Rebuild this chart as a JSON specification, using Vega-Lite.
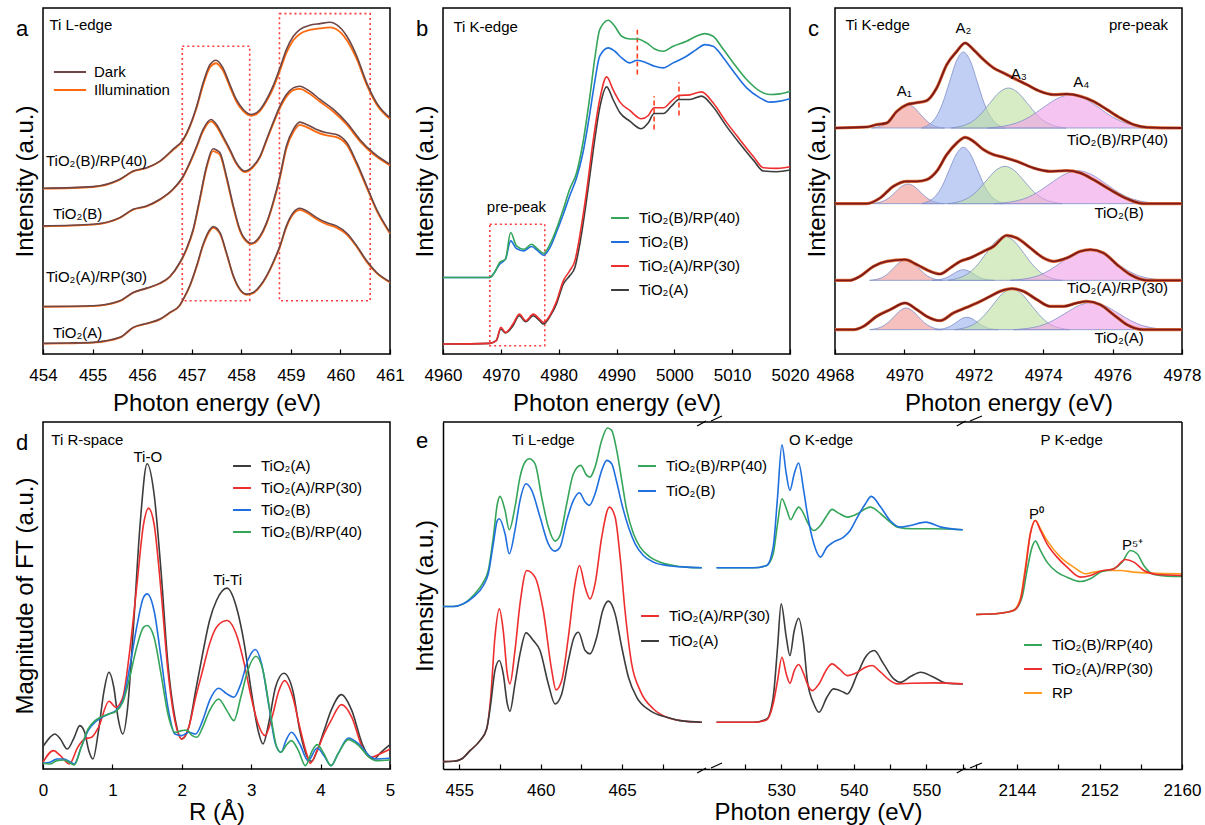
{
"$schema": "https://vega.github.io/schema/vega-lite/v6.json",
"padding": {"left": 12, "top": 7, "right": 5, "bottom": 2},
"background": "white",
"config": {
 "font": "Liberation Sans",
 "view": {"stroke": "#000", "strokeWidth": 1.5},
 "axis": {"grid": false, "labelFontSize": 17, "titleFontSize": 24, "titleFontWeight": "normal", "labelColor": "#000", "titleColor": "#000", "tickColor": "#000", "domainColor": "#000", "domainWidth": 1.5, "tickWidth": 1.2},
 "axisX": {"tickSize": -5, "labelPadding": 18, "domain": false, "titlePadding": 8, "labelFlush": false, "labelOverlap": false, "format": "d"},
 "axisY": {"labels": false, "ticks": false, "domain": false, "titlePadding": 6},
 "legend": {"orient": "none", "labelFontSize": 15, "symbolStrokeWidth": 2, "symbolSize": 320, "rowPadding": 4, "padding": 0, "labelOffset": 9, "labelLimit": 400, "symbolType": "stroke", "labelColor": "#000"},
 "title": {"fontSize": 22, "fontWeight": "normal", "anchor": "start", "frame": "group", "offset": 0, "dx": -27, "dy": 37, "baseline": "alphabetic", "color": "#000"},
 "text": {"fontSize": 15, "color": "#000", "baseline": "middle"}
},
"datasets": {
 "aCurve": [
  {"s":"A","x":454,"d":32,"i":31},{"s":"A","x":454.5,"d":33,"i":32},{"s":"A","x":455.01,"d":35,"i":34},{"s":"A","x":455.55,"d":50,"i":49},{"s":"A","x":455.82,"d":80,"i":79},{"s":"A","x":456.09,"d":92,"i":91},{"s":"A","x":456.36,"d":105,"i":104},{"s":"A","x":456.56,"d":125,"i":124},{"s":"A","x":456.76,"d":147,"i":146},{"s":"A","x":456.83,"d":165,"i":164},{"s":"A","x":456.96,"d":205,"i":203},{"s":"A","x":457.1,"d":265,"i":262},{"s":"A","x":457.23,"d":330,"i":326},{"s":"A","x":457.37,"d":375,"i":371},{"s":"A","x":457.43,"d":383,"i":379},{"s":"A","x":457.57,"d":365,"i":361},{"s":"A","x":457.7,"d":305,"i":302},{"s":"A","x":457.84,"d":235,"i":233},{"s":"A","x":457.97,"d":195,"i":193},{"s":"A","x":458.11,"d":180,"i":178},{"s":"A","x":458.24,"d":185,"i":183},{"s":"A","x":458.38,"d":205,"i":203},{"s":"A","x":458.51,"d":235,"i":233},{"s":"A","x":458.64,"d":275,"i":272},{"s":"A","x":458.78,"d":325,"i":322},{"s":"A","x":458.91,"d":385,"i":381},{"s":"A","x":459.05,"d":425,"i":421},{"s":"A","x":459.18,"d":438,"i":433},{"s":"A","x":459.32,"d":430,"i":425},{"s":"A","x":459.52,"d":410,"i":405},{"s":"A","x":459.72,"d":395,"i":390},{"s":"A","x":459.92,"d":385,"i":380},{"s":"A","x":460.13,"d":363,"i":359},{"s":"A","x":460.33,"d":325,"i":322},{"s":"A","x":460.53,"d":280,"i":277},{"s":"A","x":460.73,"d":245,"i":243},{"s":"A","x":461,"d":217,"i":215},
  {"s":"AR","x":454,"d":143,"i":142},{"s":"AR","x":455.01,"d":145,"i":144},{"s":"AR","x":455.55,"d":160,"i":159},{"s":"AR","x":455.82,"d":185,"i":184},{"s":"AR","x":456.09,"d":198,"i":197},{"s":"AR","x":456.36,"d":213,"i":212},{"s":"AR","x":456.56,"d":233,"i":232},{"s":"AR","x":456.76,"d":275,"i":273},{"s":"AR","x":456.89,"d":315,"i":312},{"s":"AR","x":457.03,"d":375,"i":371},{"s":"AR","x":457.16,"d":465,"i":460},{"s":"AR","x":457.3,"d":565,"i":559},{"s":"AR","x":457.43,"d":617,"i":610},{"s":"AR","x":457.5,"d":613,"i":606},{"s":"AR","x":457.57,"d":605,"i":598},{"s":"AR","x":457.7,"d":535,"i":529},{"s":"AR","x":457.84,"d":445,"i":440},{"s":"AR","x":457.97,"d":375,"i":371},{"s":"AR","x":458.11,"d":340,"i":337},{"s":"AR","x":458.2,"d":333,"i":330},{"s":"AR","x":458.38,"d":355,"i":352},{"s":"AR","x":458.51,"d":395,"i":391},{"s":"AR","x":458.64,"d":455,"i":450},{"s":"AR","x":458.78,"d":535,"i":529},{"s":"AR","x":458.91,"d":625,"i":618},{"s":"AR","x":459.05,"d":675,"i":667},{"s":"AR","x":459.18,"d":697,"i":689},{"s":"AR","x":459.32,"d":690,"i":682},{"s":"AR","x":459.52,"d":675,"i":667},{"s":"AR","x":459.72,"d":665,"i":657},{"s":"AR","x":459.92,"d":660,"i":652},{"s":"AR","x":460.13,"d":635,"i":628},{"s":"AR","x":460.33,"d":575,"i":569},{"s":"AR","x":460.53,"d":505,"i":500},{"s":"AR","x":460.73,"d":435,"i":431},{"s":"AR","x":461,"d":365,"i":362},
  {"s":"B","x":454,"d":385,"i":384},{"s":"B","x":455.01,"d":390,"i":389},{"s":"B","x":455.55,"d":410,"i":409},{"s":"B","x":455.82,"d":435,"i":434},{"s":"B","x":456.09,"d":445,"i":444},{"s":"B","x":456.36,"d":465,"i":464},{"s":"B","x":456.62,"d":495,"i":494},{"s":"B","x":456.83,"d":535,"i":533},{"s":"B","x":456.96,"d":575,"i":572},{"s":"B","x":457.1,"d":625,"i":621},{"s":"B","x":457.23,"d":675,"i":670},{"s":"B","x":457.39,"d":705,"i":699},{"s":"B","x":457.5,"d":690,"i":684},{"s":"B","x":457.63,"d":655,"i":650},{"s":"B","x":457.77,"d":615,"i":611},{"s":"B","x":457.9,"d":575,"i":572},{"s":"B","x":458.07,"d":550,"i":547},{"s":"B","x":458.24,"d":565,"i":562},{"s":"B","x":458.38,"d":595,"i":592},{"s":"B","x":458.51,"d":645,"i":641},{"s":"B","x":458.64,"d":695,"i":690},{"s":"B","x":458.78,"d":745,"i":739},{"s":"B","x":458.91,"d":780,"i":773},{"s":"B","x":459.05,"d":800,"i":793},{"s":"B","x":459.18,"d":805,"i":797},{"s":"B","x":459.38,"d":790,"i":782},{"s":"B","x":459.59,"d":765,"i":758},{"s":"B","x":459.86,"d":735,"i":728},{"s":"B","x":460.13,"d":695,"i":689},{"s":"B","x":460.39,"d":645,"i":640},{"s":"B","x":460.66,"d":605,"i":601},{"s":"B","x":461,"d":570,"i":567},
  {"s":"BR","x":454,"d":498,"i":497},{"s":"BR","x":455.01,"d":503,"i":502},{"s":"BR","x":455.55,"d":525,"i":524},{"s":"BR","x":455.82,"d":550,"i":549},{"s":"BR","x":456.09,"d":560,"i":559},{"s":"BR","x":456.36,"d":580,"i":579},{"s":"BR","x":456.62,"d":615,"i":613},{"s":"BR","x":456.83,"d":645,"i":643},{"s":"BR","x":456.96,"d":685,"i":682},{"s":"BR","x":457.1,"d":745,"i":740},{"s":"BR","x":457.23,"d":815,"i":808},{"s":"BR","x":457.37,"d":870,"i":862},{"s":"BR","x":457.49,"d":883,"i":874},{"s":"BR","x":457.63,"d":860,"i":852},{"s":"BR","x":457.77,"d":810,"i":803},{"s":"BR","x":457.9,"d":765,"i":759},{"s":"BR","x":458.04,"d":735,"i":730},{"s":"BR","x":458.2,"d":720,"i":716},{"s":"BR","x":458.38,"d":735,"i":731},{"s":"BR","x":458.51,"d":765,"i":760},{"s":"BR","x":458.64,"d":805,"i":798},{"s":"BR","x":458.78,"d":860,"i":852},{"s":"BR","x":458.91,"d":915,"i":905},{"s":"BR","x":459.05,"d":955,"i":943},{"s":"BR","x":459.18,"d":975,"i":962},{"s":"BR","x":459.38,"d":988,"i":974},{"s":"BR","x":459.59,"d":993,"i":979},{"s":"BR","x":459.79,"d":997,"i":982},{"s":"BR","x":459.92,"d":990,"i":976},{"s":"BR","x":460.13,"d":955,"i":943},{"s":"BR","x":460.33,"d":895,"i":886},{"s":"BR","x":460.53,"d":815,"i":809},{"s":"BR","x":460.73,"d":755,"i":750},{"s":"BR","x":461,"d":710,"i":706}
 ],
 "bB": [
  {"x":4960,"g":230,"u":230},{"x":4968.1,"g":230,"u":230},{"x":4968.9,"g":245,"u":245},{"x":4969.8,"g":275,"u":270},{"x":4970.8,"g":285,"u":285},{"x":4971.7,"g":365,"u":340},{"x":4972.7,"g":325,"u":317},{"x":4974.0,"g":315,"u":310},{"x":4975.3,"g":330,"u":323},{"x":4976.4,"g":315,"u":310},{"x":4977.4,"g":303,"u":297},{"x":4978.5,"g":330,"u":320},{"x":4979.6,"g":375,"u":365},{"x":4980.8,"g":435,"u":420},{"x":4981.9,"g":495,"u":475},{"x":4983.1,"g":545,"u":530},{"x":4984.2,"g":635,"u":605},{"x":4985.4,"g":775,"u":725},{"x":4986.3,"g":895,"u":825},{"x":4987.1,"g":975,"u":895},{"x":4988.6,"g":1003,"u":920},{"x":4989.7,"g":985,"u":910},{"x":4990.9,"g":955,"u":890},{"x":4992.3,"g":947,"u":875},{"x":4993.6,"g":947,"u":883},{"x":4995.2,"g":935,"u":875},{"x":4996.6,"g":917,"u":865},{"x":4998.1,"g":910,"u":860},{"x":4999.8,"g":925,"u":875},{"x":5002.1,"g":940,"u":895},{"x":5003.8,"g":955,"u":915},{"x":5005.3,"g":963,"u":930},{"x":5006.7,"g":955,"u":925},{"x":5008.5,"g":915,"u":890},{"x":5010.2,"g":875,"u":850},{"x":5012.5,"g":825,"u":800},{"x":5014.8,"g":790,"u":770},{"x":5016.5,"g":780,"u":757},{"x":5018.3,"g":782,"u":760},{"x":5020,"g":790,"u":767}
 ],
 "bA": [
  {"x":4960,"r":30,"k":30},{"x":4968.1,"r":32,"k":32},{"x":4969.2,"r":40,"k":40},{"x":4970.0,"r":80,"k":75},{"x":4970.8,"r":65,"k":63},{"x":4972.1,"r":90,"k":85},{"x":4973.2,"r":120,"k":115},{"x":4974.3,"r":100,"k":97},{"x":4975.6,"r":120,"k":115},{"x":4976.7,"r":105,"k":100},{"x":4977.4,"r":95,"k":90},{"x":4978.5,"r":117,"k":113},{"x":4979.6,"r":157,"k":150},{"x":4980.8,"r":220,"k":210},{"x":4981.9,"r":250,"k":235},{"x":4982.8,"r":280,"k":260},{"x":4983.7,"r":360,"k":335},{"x":4984.8,"r":485,"k":460},{"x":4986.0,"r":645,"k":615},{"x":4987.1,"r":765,"k":740},{"x":4988.3,"r":833,"k":803},{"x":4989.4,"r":795,"k":765},{"x":4990.6,"r":757,"k":725},{"x":4992.3,"r":732,"k":700},{"x":4994.3,"r":707,"k":677},{"x":4995.5,"r":717,"k":695},{"x":4996.5,"r":740,"k":723},{"x":4998.1,"r":740,"k":723},{"x":4999.5,"r":760,"k":745},{"x":5000.8,"r":777,"k":765},{"x":5002.7,"r":779,"k":765},{"x":5004.7,"r":788,"k":775},{"x":5006.7,"r":755,"k":743},{"x":5009.0,"r":697,"k":685},{"x":5011.3,"r":645,"k":633},{"x":5013.7,"r":593,"k":582},{"x":5015.4,"r":560,"k":550},{"x":5017.7,"r":558,"k":548},{"x":5020,"r":563,"k":553}
 ],
 "cEnv": [
  {"s":"1","x":4968,"y":678},{"s":"1","x":4968.91,"y":681},{"s":"1","x":4969.2,"y":688},{"s":"1","x":4969.49,"y":693},{"s":"1","x":4969.78,"y":728},{"s":"1","x":4970.07,"y":748},{"s":"1","x":4970.31,"y":753},{"s":"1","x":4970.64,"y":760},{"s":"1","x":4970.93,"y":798},{"s":"1","x":4971.22,"y":868},{"s":"1","x":4971.51,"y":908},{"s":"1","x":4971.75,"y":933},{"s":"1","x":4971.99,"y":913},{"s":"1","x":4972.28,"y":883},{"s":"1","x":4972.57,"y":858},{"s":"1","x":4972.86,"y":843},{"s":"1","x":4973.14,"y":828},{"s":"1","x":4973.53,"y":808},{"s":"1","x":4973.91,"y":788},{"s":"1","x":4974.3,"y":778},{"s":"1","x":4974.68,"y":780},{"s":"1","x":4975.07,"y":773},{"s":"1","x":4975.45,"y":758},{"s":"1","x":4975.84,"y":733},{"s":"1","x":4976.22,"y":708},{"s":"1","x":4976.61,"y":688},{"s":"1","x":4976.99,"y":680},{"s":"1","x":4978,"y":678},
  {"s":"2","x":4968,"y":451},{"s":"2","x":4968.91,"y":451},{"s":"2","x":4969.3,"y":468},{"s":"2","x":4969.68,"y":503},{"s":"2","x":4970.07,"y":518},{"s":"2","x":4970.36,"y":518},{"s":"2","x":4970.64,"y":523},{"s":"2","x":4970.93,"y":548},{"s":"2","x":4971.22,"y":598},{"s":"2","x":4971.51,"y":633},{"s":"2","x":4971.75,"y":650},{"s":"2","x":4971.99,"y":638},{"s":"2","x":4972.28,"y":613},{"s":"2","x":4972.57,"y":598},{"s":"2","x":4972.86,"y":590},{"s":"2","x":4973.24,"y":578},{"s":"2","x":4973.72,"y":558},{"s":"2","x":4974.2,"y":548},{"s":"2","x":4974.68,"y":550},{"s":"2","x":4975.07,"y":543},{"s":"2","x":4975.45,"y":523},{"s":"2","x":4975.93,"y":493},{"s":"2","x":4976.41,"y":466},{"s":"2","x":4976.89,"y":451},{"s":"2","x":4978,"y":451},
  {"s":"3","x":4968,"y":221},{"s":"3","x":4968.43,"y":221},{"s":"3","x":4968.72,"y":233},{"s":"3","x":4969.11,"y":263},{"s":"3","x":4969.49,"y":278},{"s":"3","x":4970.02,"y":283},{"s":"3","x":4970.36,"y":268},{"s":"3","x":4970.74,"y":248},{"s":"3","x":4971.03,"y":240},{"s":"3","x":4971.32,"y":258},{"s":"3","x":4971.61,"y":278},{"s":"3","x":4971.89,"y":288},{"s":"3","x":4972.28,"y":308},{"s":"3","x":4972.57,"y":323},{"s":"3","x":4972.95,"y":356},{"s":"3","x":4973.24,"y":348},{"s":"3","x":4973.63,"y":318},{"s":"3","x":4974.01,"y":288},{"s":"3","x":4974.3,"y":278},{"s":"3","x":4974.68,"y":288},{"s":"3","x":4975.07,"y":308},{"s":"3","x":4975.36,"y":313},{"s":"3","x":4975.74,"y":303},{"s":"3","x":4976.13,"y":268},{"s":"3","x":4976.51,"y":238},{"s":"3","x":4976.99,"y":221},{"s":"3","x":4978,"y":221},
  {"s":"4","x":4968,"y":73},{"s":"4","x":4968.53,"y":73},{"s":"4","x":4968.82,"y":83},{"s":"4","x":4969.2,"y":113},{"s":"4","x":4969.59,"y":133},{"s":"4","x":4970.02,"y":153},{"s":"4","x":4970.36,"y":133},{"s":"4","x":4970.64,"y":113},{"s":"4","x":4971.03,"y":100},{"s":"4","x":4971.41,"y":123},{"s":"4","x":4971.8,"y":140},{"s":"4","x":4972.09,"y":153},{"s":"4","x":4972.47,"y":173},{"s":"4","x":4972.76,"y":188},{"s":"4","x":4973.1,"y":196},{"s":"4","x":4973.43,"y":188},{"s":"4","x":4973.82,"y":163},{"s":"4","x":4974.2,"y":143},{"s":"4","x":4974.59,"y":143},{"s":"4","x":4974.97,"y":153},{"s":"4","x":4975.26,"y":158},{"s":"4","x":4975.64,"y":148},{"s":"4","x":4976.03,"y":118},{"s":"4","x":4976.41,"y":88},{"s":"4","x":4976.89,"y":73},{"s":"4","x":4978,"y":73}
 ],
 "cComp": [
  {"s":"1","c":"A1","x":4969.05,"y":678,"b":678},{"s":"1","c":"A1","x":4969.4,"y":687,"b":678},{"s":"1","c":"A1","x":4969.575,"y":701,"b":678},{"s":"1","c":"A1","x":4969.75,"y":720,"b":678},{"s":"1","c":"A1","x":4969.925,"y":740,"b":678},{"s":"1","c":"A1","x":4970.1,"y":748,"b":678},{"s":"1","c":"A1","x":4970.275,"y":740,"b":678},{"s":"1","c":"A1","x":4970.45,"y":720,"b":678},{"s":"1","c":"A1","x":4970.625,"y":701,"b":678},{"s":"1","c":"A1","x":4970.8,"y":687,"b":678},{"s":"1","c":"A1","x":4971.15,"y":678,"b":678},
  {"s":"1","c":"A2","x":4970.5,"y":678,"b":678},{"s":"1","c":"A2","x":4970.9,"y":709,"b":678},{"s":"1","c":"A2","x":4971.1,"y":752,"b":678},{"s":"1","c":"A2","x":4971.3,"y":816,"b":678},{"s":"1","c":"A2","x":4971.5,"y":879,"b":678},{"s":"1","c":"A2","x":4971.7,"y":906,"b":678},{"s":"1","c":"A2","x":4971.9,"y":879,"b":678},{"s":"1","c":"A2","x":4972.1,"y":816,"b":678},{"s":"1","c":"A2","x":4972.3,"y":752,"b":678},{"s":"1","c":"A2","x":4972.5,"y":709,"b":678},{"s":"1","c":"A2","x":4972.9,"y":678,"b":678},
  {"s":"1","c":"A3","x":4971.35,"y":678,"b":678},{"s":"1","c":"A3","x":4971.9,"y":694,"b":678},{"s":"1","c":"A3","x":4972.175,"y":717,"b":678},{"s":"1","c":"A3","x":4972.45,"y":751,"b":678},{"s":"1","c":"A3","x":4972.725,"y":784,"b":678},{"s":"1","c":"A3","x":4973.0,"y":798,"b":678},{"s":"1","c":"A3","x":4973.275,"y":784,"b":678},{"s":"1","c":"A3","x":4973.55,"y":751,"b":678},{"s":"1","c":"A3","x":4973.825,"y":717,"b":678},{"s":"1","c":"A3","x":4974.1,"y":694,"b":678},{"s":"1","c":"A3","x":4974.65,"y":678,"b":678},
  {"s":"1","c":"A4","x":4972.4,"y":678,"b":678},{"s":"1","c":"A4","x":4973.2,"y":692,"b":678},{"s":"1","c":"A4","x":4973.6,"y":711,"b":678},{"s":"1","c":"A4","x":4974.0,"y":739,"b":678},{"s":"1","c":"A4","x":4974.4,"y":766,"b":678},{"s":"1","c":"A4","x":4974.8,"y":778,"b":678},{"s":"1","c":"A4","x":4975.2,"y":766,"b":678},{"s":"1","c":"A4","x":4975.6,"y":739,"b":678},{"s":"1","c":"A4","x":4976.0,"y":711,"b":678},{"s":"1","c":"A4","x":4976.4,"y":692,"b":678},{"s":"1","c":"A4","x":4977.2,"y":678,"b":678},
  {"s":"2","c":"A1","x":4969.05,"y":451,"b":451},{"s":"2","c":"A1","x":4969.4,"y":459,"b":451},{"s":"2","c":"A1","x":4969.575,"y":470,"b":451},{"s":"2","c":"A1","x":4969.75,"y":487,"b":451},{"s":"2","c":"A1","x":4969.925,"y":503,"b":451},{"s":"2","c":"A1","x":4970.1,"y":510,"b":451},{"s":"2","c":"A1","x":4970.275,"y":503,"b":451},{"s":"2","c":"A1","x":4970.45,"y":487,"b":451},{"s":"2","c":"A1","x":4970.625,"y":470,"b":451},{"s":"2","c":"A1","x":4970.8,"y":459,"b":451},{"s":"2","c":"A1","x":4971.15,"y":451,"b":451},
  {"s":"2","c":"A2","x":4970.5,"y":451,"b":451},{"s":"2","c":"A2","x":4970.9,"y":474,"b":451},{"s":"2","c":"A2","x":4971.1,"y":506,"b":451},{"s":"2","c":"A2","x":4971.3,"y":554,"b":451},{"s":"2","c":"A2","x":4971.5,"y":600,"b":451},{"s":"2","c":"A2","x":4971.7,"y":620,"b":451},{"s":"2","c":"A2","x":4971.9,"y":600,"b":451},{"s":"2","c":"A2","x":4972.1,"y":554,"b":451},{"s":"2","c":"A2","x":4972.3,"y":506,"b":451},{"s":"2","c":"A2","x":4972.5,"y":474,"b":451},{"s":"2","c":"A2","x":4972.9,"y":451,"b":451},
  {"s":"2","c":"A3","x":4971.25,"y":451,"b":451},{"s":"2","c":"A3","x":4971.8,"y":466,"b":451},{"s":"2","c":"A3","x":4972.075,"y":487,"b":451},{"s":"2","c":"A3","x":4972.35,"y":519,"b":451},{"s":"2","c":"A3","x":4972.625,"y":550,"b":451},{"s":"2","c":"A3","x":4972.9,"y":563,"b":451},{"s":"2","c":"A3","x":4973.175,"y":550,"b":451},{"s":"2","c":"A3","x":4973.45,"y":519,"b":451},{"s":"2","c":"A3","x":4973.725,"y":487,"b":451},{"s":"2","c":"A3","x":4974.0,"y":466,"b":451},{"s":"2","c":"A3","x":4974.55,"y":451,"b":451},
  {"s":"2","c":"A4","x":4972.6,"y":451,"b":451},{"s":"2","c":"A4","x":4973.4,"y":464,"b":451},{"s":"2","c":"A4","x":4973.8,"y":483,"b":451},{"s":"2","c":"A4","x":4974.2,"y":511,"b":451},{"s":"2","c":"A4","x":4974.6,"y":538,"b":451},{"s":"2","c":"A4","x":4975.0,"y":550,"b":451},{"s":"2","c":"A4","x":4975.4,"y":538,"b":451},{"s":"2","c":"A4","x":4975.8,"y":511,"b":451},{"s":"2","c":"A4","x":4976.2,"y":483,"b":451},{"s":"2","c":"A4","x":4976.6,"y":464,"b":451},{"s":"2","c":"A4","x":4977.4,"y":451,"b":451},
  {"s":"3","c":"A1","x":4969.0,"y":221,"b":221},{"s":"3","c":"A1","x":4969.35,"y":229,"b":221},{"s":"3","c":"A1","x":4969.525,"y":241,"b":221},{"s":"3","c":"A1","x":4969.7,"y":259,"b":221},{"s":"3","c":"A1","x":4969.875,"y":276,"b":221},{"s":"3","c":"A1","x":4970.05,"y":283,"b":221},{"s":"3","c":"A1","x":4970.225,"y":276,"b":221},{"s":"3","c":"A1","x":4970.4,"y":259,"b":221},{"s":"3","c":"A1","x":4970.575,"y":241,"b":221},{"s":"3","c":"A1","x":4970.75,"y":229,"b":221},{"s":"3","c":"A1","x":4971.1,"y":221,"b":221},
  {"s":"3","c":"A2","x":4970.8,"y":221,"b":221},{"s":"3","c":"A2","x":4971.1,"y":225,"b":221},{"s":"3","c":"A2","x":4971.25,"y":231,"b":221},{"s":"3","c":"A2","x":4971.4,"y":240,"b":221},{"s":"3","c":"A2","x":4971.55,"y":249,"b":221},{"s":"3","c":"A2","x":4971.7,"y":253,"b":221},{"s":"3","c":"A2","x":4971.85,"y":249,"b":221},{"s":"3","c":"A2","x":4972.0,"y":240,"b":221},{"s":"3","c":"A2","x":4972.15,"y":231,"b":221},{"s":"3","c":"A2","x":4972.3,"y":225,"b":221},{"s":"3","c":"A2","x":4972.6,"y":221,"b":221},
  {"s":"3","c":"A3","x":4971.25,"y":221,"b":221},{"s":"3","c":"A3","x":4971.8,"y":239,"b":221},{"s":"3","c":"A3","x":4972.075,"y":264,"b":221},{"s":"3","c":"A3","x":4972.35,"y":301,"b":221},{"s":"3","c":"A3","x":4972.625,"y":337,"b":221},{"s":"3","c":"A3","x":4972.9,"y":353,"b":221},{"s":"3","c":"A3","x":4973.175,"y":337,"b":221},{"s":"3","c":"A3","x":4973.45,"y":301,"b":221},{"s":"3","c":"A3","x":4973.725,"y":264,"b":221},{"s":"3","c":"A3","x":4974.0,"y":239,"b":221},{"s":"3","c":"A3","x":4974.55,"y":221,"b":221},
  {"s":"3","c":"A4","x":4973.05,"y":221,"b":221},{"s":"3","c":"A4","x":4973.8,"y":233,"b":221},{"s":"3","c":"A4","x":4974.175,"y":251,"b":221},{"s":"3","c":"A4","x":4974.55,"y":277,"b":221},{"s":"3","c":"A4","x":4974.925,"y":302,"b":221},{"s":"3","c":"A4","x":4975.3,"y":313,"b":221},{"s":"3","c":"A4","x":4975.675,"y":302,"b":221},{"s":"3","c":"A4","x":4976.05,"y":277,"b":221},{"s":"3","c":"A4","x":4976.425,"y":251,"b":221},{"s":"3","c":"A4","x":4976.8,"y":233,"b":221},{"s":"3","c":"A4","x":4977.55,"y":221,"b":221},
  {"s":"4","c":"A1","x":4969.0,"y":73,"b":73},{"s":"4","c":"A1","x":4969.35,"y":82,"b":73},{"s":"4","c":"A1","x":4969.525,"y":94,"b":73},{"s":"4","c":"A1","x":4969.7,"y":112,"b":73},{"s":"4","c":"A1","x":4969.875,"y":130,"b":73},{"s":"4","c":"A1","x":4970.05,"y":138,"b":73},{"s":"4","c":"A1","x":4970.225,"y":130,"b":73},{"s":"4","c":"A1","x":4970.4,"y":112,"b":73},{"s":"4","c":"A1","x":4970.575,"y":94,"b":73},{"s":"4","c":"A1","x":4970.75,"y":82,"b":73},{"s":"4","c":"A1","x":4971.1,"y":73,"b":73},
  {"s":"4","c":"A2","x":4970.9,"y":73,"b":73},{"s":"4","c":"A2","x":4971.2,"y":78,"b":73},{"s":"4","c":"A2","x":4971.35,"y":85,"b":73},{"s":"4","c":"A2","x":4971.5,"y":95,"b":73},{"s":"4","c":"A2","x":4971.65,"y":106,"b":73},{"s":"4","c":"A2","x":4971.8,"y":110,"b":73},{"s":"4","c":"A2","x":4971.95,"y":106,"b":73},{"s":"4","c":"A2","x":4972.1,"y":95,"b":73},{"s":"4","c":"A2","x":4972.25,"y":85,"b":73},{"s":"4","c":"A2","x":4972.4,"y":78,"b":73},{"s":"4","c":"A2","x":4972.7,"y":73,"b":73},
  {"s":"4","c":"A3","x":4971.45,"y":73,"b":73},{"s":"4","c":"A3","x":4972.0,"y":89,"b":73},{"s":"4","c":"A3","x":4972.275,"y":113,"b":73},{"s":"4","c":"A3","x":4972.55,"y":147,"b":73},{"s":"4","c":"A3","x":4972.825,"y":181,"b":73},{"s":"4","c":"A3","x":4973.1,"y":195,"b":73},{"s":"4","c":"A3","x":4973.375,"y":181,"b":73},{"s":"4","c":"A3","x":4973.65,"y":147,"b":73},{"s":"4","c":"A3","x":4973.925,"y":113,"b":73},{"s":"4","c":"A3","x":4974.2,"y":89,"b":73},{"s":"4","c":"A3","x":4974.75,"y":73,"b":73},
  {"s":"4","c":"A4","x":4973.15,"y":73,"b":73},{"s":"4","c":"A4","x":4973.9,"y":84,"b":73},{"s":"4","c":"A4","x":4974.275,"y":100,"b":73},{"s":"4","c":"A4","x":4974.65,"y":123,"b":73},{"s":"4","c":"A4","x":4975.025,"y":145,"b":73},{"s":"4","c":"A4","x":4975.4,"y":155,"b":73},{"s":"4","c":"A4","x":4975.775,"y":145,"b":73},{"s":"4","c":"A4","x":4976.15,"y":123,"b":73},{"s":"4","c":"A4","x":4976.525,"y":100,"b":73},{"s":"4","c":"A4","x":4976.9,"y":84,"b":73},{"s":"4","c":"A4","x":4977.65,"y":73,"b":73}
 ],
 "dCurve": [
  {"s":"A","x":0,"y":67},{"s":"A","x":0.1,"y":95},{"s":"A","x":0.17,"y":105},{"s":"A","x":0.25,"y":90},{"s":"A","x":0.35,"y":60},{"s":"A","x":0.45,"y":95},{"s":"A","x":0.53,"y":130},{"s":"A","x":0.6,"y":110},{"s":"A","x":0.66,"y":55},{"s":"A","x":0.72,"y":30},{"s":"A","x":0.8,"y":115},{"s":"A","x":0.88,"y":235},{"s":"A","x":0.95,"y":290},{"s":"A","x":1.02,"y":245},{"s":"A","x":1.08,"y":155},{"s":"A","x":1.15,"y":105},{"s":"A","x":1.22,"y":185},{"s":"A","x":1.3,"y":415},{"s":"A","x":1.4,"y":735},{"s":"A","x":1.5,"y":915},{"s":"A","x":1.6,"y":825},{"s":"A","x":1.7,"y":595},{"s":"A","x":1.8,"y":315},{"s":"A","x":1.9,"y":155},{"s":"A","x":2.0,"y":90},{"s":"A","x":2.1,"y":125},{"s":"A","x":2.2,"y":235},{"s":"A","x":2.3,"y":345},{"s":"A","x":2.4,"y":445},{"s":"A","x":2.5,"y":505},{"s":"A","x":2.65,"y":542},{"s":"A","x":2.8,"y":475},{"s":"A","x":2.9,"y":375},{"s":"A","x":3.0,"y":235},{"s":"A","x":3.1,"y":115},{"s":"A","x":3.17,"y":75},{"s":"A","x":3.25,"y":135},{"s":"A","x":3.35,"y":245},{"s":"A","x":3.47,"y":287},{"s":"A","x":3.6,"y":235},{"s":"A","x":3.7,"y":115},{"s":"A","x":3.8,"y":40},{"s":"A","x":3.87,"y":23},{"s":"A","x":3.95,"y":55},{"s":"A","x":4.05,"y":115},{"s":"A","x":4.15,"y":175},{"s":"A","x":4.3,"y":223},{"s":"A","x":4.45,"y":175},{"s":"A","x":4.6,"y":75},{"s":"A","x":4.7,"y":37},{"s":"A","x":4.77,"y":30},{"s":"A","x":4.87,"y":50},{"s":"A","x":5,"y":73},
  {"s":"AR","x":0,"y":20},{"s":"AR","x":0.15,"y":55},{"s":"AR","x":0.25,"y":40},{"s":"AR","x":0.38,"y":15},{"s":"AR","x":0.5,"y":65},{"s":"AR","x":0.6,"y":90},{"s":"AR","x":0.7,"y":95},{"s":"AR","x":0.8,"y":125},{"s":"AR","x":0.95,"y":203},{"s":"AR","x":1.05,"y":185},{"s":"AR","x":1.15,"y":215},{"s":"AR","x":1.25,"y":355},{"s":"AR","x":1.35,"y":545},{"s":"AR","x":1.45,"y":735},{"s":"AR","x":1.52,"y":782},{"s":"AR","x":1.6,"y":735},{"s":"AR","x":1.7,"y":535},{"s":"AR","x":1.8,"y":295},{"s":"AR","x":1.9,"y":145},{"s":"AR","x":2.0,"y":90},{"s":"AR","x":2.1,"y":125},{"s":"AR","x":2.2,"y":215},{"s":"AR","x":2.3,"y":295},{"s":"AR","x":2.4,"y":375},{"s":"AR","x":2.5,"y":425},{"s":"AR","x":2.65,"y":445},{"s":"AR","x":2.8,"y":395},{"s":"AR","x":2.9,"y":315},{"s":"AR","x":3.0,"y":215},{"s":"AR","x":3.1,"y":135},{"s":"AR","x":3.2,"y":100},{"s":"AR","x":3.3,"y":155},{"s":"AR","x":3.4,"y":235},{"s":"AR","x":3.48,"y":265},{"s":"AR","x":3.6,"y":215},{"s":"AR","x":3.7,"y":125},{"s":"AR","x":3.8,"y":45},{"s":"AR","x":3.85,"y":17},{"s":"AR","x":3.95,"y":55},{"s":"AR","x":4.05,"y":105},{"s":"AR","x":4.15,"y":145},{"s":"AR","x":4.3,"y":193},{"s":"AR","x":4.45,"y":155},{"s":"AR","x":4.6,"y":65},{"s":"AR","x":4.72,"y":35},{"s":"AR","x":4.85,"y":45},{"s":"AR","x":5,"y":60},
  {"s":"B","x":0,"y":17},{"s":"B","x":0.1,"y":20},{"s":"B","x":0.2,"y":30},{"s":"B","x":0.3,"y":30},{"s":"B","x":0.4,"y":20},{"s":"B","x":0.45,"y":15},{"s":"B","x":0.55,"y":65},{"s":"B","x":0.65,"y":115},{"s":"B","x":0.75,"y":140},{"s":"B","x":0.85,"y":155},{"s":"B","x":0.95,"y":165},{"s":"B","x":1.05,"y":175},{"s":"B","x":1.15,"y":205},{"s":"B","x":1.25,"y":305},{"s":"B","x":1.35,"y":425},{"s":"B","x":1.45,"y":515},{"s":"B","x":1.5,"y":525},{"s":"B","x":1.6,"y":475},{"s":"B","x":1.7,"y":335},{"s":"B","x":1.8,"y":185},{"s":"B","x":1.9,"y":105},{"s":"B","x":2.0,"y":100},{"s":"B","x":2.1,"y":110},{"s":"B","x":2.2,"y":105},{"s":"B","x":2.3,"y":145},{"s":"B","x":2.4,"y":205},{"s":"B","x":2.53,"y":242},{"s":"B","x":2.65,"y":225},{"s":"B","x":2.75,"y":215},{"s":"B","x":2.85,"y":255},{"s":"B","x":2.95,"y":325},{"s":"B","x":3.06,"y":358},{"s":"B","x":3.15,"y":315},{"s":"B","x":3.25,"y":195},{"s":"B","x":3.35,"y":75},{"s":"B","x":3.43,"y":50},{"s":"B","x":3.5,"y":85},{"s":"B","x":3.58,"y":110},{"s":"B","x":3.7,"y":75},{"s":"B","x":3.82,"y":25},{"s":"B","x":3.95,"y":63},{"s":"B","x":4.05,"y":40},{"s":"B","x":4.15,"y":10},{"s":"B","x":4.25,"y":45},{"s":"B","x":4.4,"y":93},{"s":"B","x":4.55,"y":75},{"s":"B","x":4.7,"y":40},{"s":"B","x":4.8,"y":30},{"s":"B","x":5,"y":32},
  {"s":"BR","x":0,"y":17},{"s":"BR","x":0.1,"y":15},{"s":"BR","x":0.2,"y":25},{"s":"BR","x":0.3,"y":27},{"s":"BR","x":0.4,"y":17},{"s":"BR","x":0.45,"y":12},{"s":"BR","x":0.55,"y":65},{"s":"BR","x":0.65,"y":120},{"s":"BR","x":0.75,"y":145},{"s":"BR","x":0.85,"y":157},{"s":"BR","x":0.95,"y":165},{"s":"BR","x":1.05,"y":173},{"s":"BR","x":1.15,"y":200},{"s":"BR","x":1.25,"y":275},{"s":"BR","x":1.35,"y":365},{"s":"BR","x":1.45,"y":425},{"s":"BR","x":1.5,"y":430},{"s":"BR","x":1.6,"y":395},{"s":"BR","x":1.7,"y":285},{"s":"BR","x":1.8,"y":165},{"s":"BR","x":1.9,"y":110},{"s":"BR","x":2.0,"y":115},{"s":"BR","x":2.07,"y":117},{"s":"BR","x":2.15,"y":100},{"s":"BR","x":2.22,"y":95},{"s":"BR","x":2.3,"y":125},{"s":"BR","x":2.4,"y":175},{"s":"BR","x":2.53,"y":210},{"s":"BR","x":2.65,"y":175},{"s":"BR","x":2.75,"y":145},{"s":"BR","x":2.85,"y":215},{"s":"BR","x":2.95,"y":295},{"s":"BR","x":3.07,"y":338},{"s":"BR","x":3.17,"y":295},{"s":"BR","x":3.27,"y":175},{"s":"BR","x":3.37,"y":65},{"s":"BR","x":3.43,"y":50},{"s":"BR","x":3.5,"y":70},{"s":"BR","x":3.58,"y":85},{"s":"BR","x":3.68,"y":55},{"s":"BR","x":3.78,"y":10},{"s":"BR","x":3.88,"y":55},{"s":"BR","x":3.95,"y":73},{"s":"BR","x":4.05,"y":45},{"s":"BR","x":4.15,"y":10},{"s":"BR","x":4.25,"y":45},{"s":"BR","x":4.4,"y":88},{"s":"BR","x":4.55,"y":70},{"s":"BR","x":4.7,"y":35},{"s":"BR","x":4.8,"y":25},{"s":"BR","x":5,"y":27}
 ],
 "e1B": [
  {"s":"BR","x":454.02,"y":487},{"s":"BR","x":454.63,"y":487},{"s":"BR","x":455.25,"y":495},{"s":"BR","x":455.86,"y":520},{"s":"BR","x":456.48,"y":560},{"s":"BR","x":456.78,"y":595},{"s":"BR","x":457.09,"y":695},{"s":"BR","x":457.34,"y":795},{"s":"BR","x":457.5,"y":817},{"s":"BR","x":457.81,"y":775},{"s":"BR","x":458.07,"y":717},{"s":"BR","x":458.42,"y":785},{"s":"BR","x":458.73,"y":875},{"s":"BR","x":459.04,"y":920},{"s":"BR","x":459.3,"y":930},{"s":"BR","x":459.65,"y":915},{"s":"BR","x":460.06,"y":815},{"s":"BR","x":460.47,"y":725},{"s":"BR","x":460.88,"y":683},{"s":"BR","x":461.19,"y":700},{"s":"BR","x":461.6,"y":795},{"s":"BR","x":462.01,"y":885},{"s":"BR","x":462.46,"y":910},{"s":"BR","x":462.83,"y":880},{"s":"BR","x":463.03,"y":875},{"s":"BR","x":463.34,"y":905},{"s":"BR","x":463.75,"y":985},{"s":"BR","x":464.1,"y":1022},{"s":"BR","x":464.36,"y":1015},{"s":"BR","x":464.67,"y":955},{"s":"BR","x":464.98,"y":865},{"s":"BR","x":465.29,"y":775},{"s":"BR","x":465.7,"y":705},{"s":"BR","x":466.11,"y":665},{"s":"BR","x":466.72,"y":635},{"s":"BR","x":467.34,"y":620},{"s":"BR","x":468.16,"y":610},{"s":"BR","x":468.98,"y":605},{"s":"BR","x":469.9,"y":603},
  {"s":"B","x":454.02,"y":487},{"s":"B","x":454.63,"y":487},{"s":"B","x":455.25,"y":495},{"s":"B","x":455.86,"y":515},{"s":"B","x":456.48,"y":550},{"s":"B","x":456.78,"y":585},{"s":"B","x":457.09,"y":675},{"s":"B","x":457.34,"y":745},{"s":"B","x":457.46,"y":750},{"s":"B","x":457.81,"y":705},{"s":"B","x":458.07,"y":645},{"s":"B","x":458.42,"y":715},{"s":"B","x":458.73,"y":805},{"s":"B","x":459.1,"y":855},{"s":"B","x":459.45,"y":835},{"s":"B","x":459.96,"y":755},{"s":"B","x":460.47,"y":675},{"s":"B","x":460.88,"y":653},{"s":"B","x":461.19,"y":665},{"s":"B","x":461.6,"y":745},{"s":"B","x":462.01,"y":805},{"s":"B","x":462.38,"y":828},{"s":"B","x":462.73,"y":800},{"s":"B","x":462.99,"y":790},{"s":"B","x":463.34,"y":825},{"s":"B","x":463.75,"y":895},{"s":"B","x":464.06,"y":925},{"s":"B","x":464.36,"y":915},{"s":"B","x":464.67,"y":860},{"s":"B","x":464.98,"y":795},{"s":"B","x":465.39,"y":725},{"s":"B","x":465.8,"y":675},{"s":"B","x":466.31,"y":640},{"s":"B","x":466.93,"y":620},{"s":"B","x":467.75,"y":610},{"s":"B","x":468.98,"y":605},{"s":"B","x":469.9,"y":603}
 ],
 "e1A": [
  {"s":"AR","x":454.02,"y":22},{"s":"AR","x":454.63,"y":23},{"s":"AR","x":455.14,"y":30},{"s":"AR","x":455.66,"y":55},{"s":"AR","x":456.27,"y":85},{"s":"AR","x":456.68,"y":120},{"s":"AR","x":456.93,"y":215},{"s":"AR","x":457.19,"y":395},{"s":"AR","x":457.46,"y":480},{"s":"AR","x":457.7,"y":415},{"s":"AR","x":457.95,"y":285},{"s":"AR","x":458.11,"y":255},{"s":"AR","x":458.42,"y":355},{"s":"AR","x":458.73,"y":495},{"s":"AR","x":459.14,"y":595},{"s":"AR","x":459.65,"y":575},{"s":"AR","x":460.16,"y":475},{"s":"AR","x":460.68,"y":295},{"s":"AR","x":460.94,"y":237},{"s":"AR","x":461.29,"y":265},{"s":"AR","x":461.7,"y":395},{"s":"AR","x":462.11,"y":555},{"s":"AR","x":462.38,"y":610},{"s":"AR","x":462.73,"y":545},{"s":"AR","x":463.03,"y":510},{"s":"AR","x":463.34,"y":555},{"s":"AR","x":463.75,"y":695},{"s":"AR","x":464.22,"y":785},{"s":"AR","x":464.57,"y":755},{"s":"AR","x":464.88,"y":635},{"s":"AR","x":465.18,"y":475},{"s":"AR","x":465.59,"y":315},{"s":"AR","x":466.11,"y":235},{"s":"AR","x":466.93,"y":180},{"s":"AR","x":467.75,"y":155},{"s":"AR","x":468.57,"y":145},{"s":"AR","x":469.9,"y":140},
  {"s":"A","x":454.02,"y":22},{"s":"A","x":454.63,"y":23},{"s":"A","x":455.14,"y":30},{"s":"A","x":455.66,"y":55},{"s":"A","x":456.27,"y":85},{"s":"A","x":456.68,"y":120},{"s":"A","x":456.93,"y":195},{"s":"A","x":457.19,"y":295},{"s":"A","x":457.46,"y":325},{"s":"A","x":457.7,"y":285},{"s":"A","x":457.95,"y":195},{"s":"A","x":458.11,"y":173},{"s":"A","x":458.42,"y":255},{"s":"A","x":458.73,"y":345},{"s":"A","x":459.1,"y":408},{"s":"A","x":459.55,"y":385},{"s":"A","x":459.96,"y":355},{"s":"A","x":460.47,"y":255},{"s":"A","x":460.88,"y":195},{"s":"A","x":461.29,"y":225},{"s":"A","x":461.7,"y":325},{"s":"A","x":462.05,"y":395},{"s":"A","x":462.32,"y":410},{"s":"A","x":462.73,"y":355},{"s":"A","x":463.03,"y":345},{"s":"A","x":463.44,"y":395},{"s":"A","x":463.81,"y":475},{"s":"A","x":464.16,"y":503},{"s":"A","x":464.57,"y":465},{"s":"A","x":464.98,"y":365},{"s":"A","x":465.39,"y":275},{"s":"A","x":465.9,"y":215},{"s":"A","x":466.72,"y":175},{"s":"A","x":467.75,"y":155},{"s":"A","x":468.57,"y":145},{"s":"A","x":469.9,"y":140}
 ],
 "e2": [
  {"s":"BR","x":521.1,"y":603},{"s":"BR","x":526.2,"y":603},{"s":"BR","x":528.0,"y":610},{"s":"BR","x":528.9,"y":645},{"s":"BR","x":529.5,"y":735},{"s":"BR","x":530.1,"y":810},{"s":"BR","x":530.8,"y":775},{"s":"BR","x":531.3,"y":747},{"s":"BR","x":531.9,"y":770},{"s":"BR","x":532.4,"y":785},{"s":"BR","x":533.1,"y":765},{"s":"BR","x":533.6,"y":740},{"s":"BR","x":534.5,"y":715},{"s":"BR","x":535.4,"y":730},{"s":"BR","x":536.3,"y":760},{"s":"BR","x":537.0,"y":778},{"s":"BR","x":537.9,"y":767},{"s":"BR","x":539.1,"y":755},{"s":"BR","x":540.5,"y":765},{"s":"BR","x":541.6,"y":780},{"s":"BR","x":542.3,"y":785},{"s":"BR","x":543.7,"y":765},{"s":"BR","x":545.0,"y":740},{"s":"BR","x":546.0,"y":725},{"s":"BR","x":548,"y":720},{"s":"BR","x":551,"y":720},{"s":"BR","x":555,"y":717},
  {"s":"B","x":521.1,"y":603},{"s":"B","x":526.2,"y":603},{"s":"B","x":528.0,"y":610},{"s":"B","x":528.9,"y":665},{"s":"B","x":529.5,"y":815},{"s":"B","x":530.1,"y":972},{"s":"B","x":530.7,"y":885},{"s":"B","x":531.2,"y":835},{"s":"B","x":531.8,"y":885},{"s":"B","x":532.4,"y":917},{"s":"B","x":533.1,"y":835},{"s":"B","x":533.6,"y":765},{"s":"B","x":534.5,"y":675},{"s":"B","x":535.4,"y":635},{"s":"B","x":536.3,"y":665},{"s":"B","x":537.2,"y":680},{"s":"B","x":538.6,"y":695},{"s":"B","x":539.5,"y":715},{"s":"B","x":540.5,"y":755},{"s":"B","x":541.6,"y":795},{"s":"B","x":542.4,"y":817},{"s":"B","x":543.7,"y":785},{"s":"B","x":545.0,"y":745},{"s":"B","x":546.4,"y":725},{"s":"B","x":547.8,"y":730},{"s":"B","x":549.9,"y":740},{"s":"B","x":552.0,"y":725},{"s":"B","x":555,"y":717},
  {"s":"A","x":521.1,"y":140},{"s":"A","x":526.2,"y":140},{"s":"A","x":528.0,"y":150},{"s":"A","x":528.9,"y":215},{"s":"A","x":529.5,"y":365},{"s":"A","x":530.0,"y":495},{"s":"A","x":530.7,"y":395},{"s":"A","x":531.2,"y":340},{"s":"A","x":531.8,"y":415},{"s":"A","x":532.4,"y":452},{"s":"A","x":533.1,"y":375},{"s":"A","x":533.6,"y":265},{"s":"A","x":534.5,"y":195},{"s":"A","x":535.2,"y":170},{"s":"A","x":536.3,"y":215},{"s":"A","x":537.2,"y":240},{"s":"A","x":538.6,"y":230},{"s":"A","x":539.1,"y":225},{"s":"A","x":540.5,"y":285},{"s":"A","x":541.6,"y":335},{"s":"A","x":542.8,"y":355},{"s":"A","x":544.1,"y":315},{"s":"A","x":545.5,"y":270},{"s":"A","x":546.4,"y":260},{"s":"A","x":547.8,"y":277},{"s":"A","x":549.2,"y":290},{"s":"A","x":551.0,"y":275},{"s":"A","x":552.8,"y":257},{"s":"A","x":555,"y":255},
  {"s":"AR","x":521.1,"y":140},{"s":"AR","x":526.2,"y":140},{"s":"AR","x":528.0,"y":147},{"s":"AR","x":528.9,"y":195},{"s":"AR","x":529.5,"y":265},{"s":"AR","x":530.1,"y":335},{"s":"AR","x":530.7,"y":285},{"s":"AR","x":531.2,"y":257},{"s":"AR","x":531.8,"y":295},{"s":"AR","x":532.4,"y":313},{"s":"AR","x":533.1,"y":285},{"s":"AR","x":533.6,"y":255},{"s":"AR","x":534.3,"y":235},{"s":"AR","x":535.2,"y":255},{"s":"AR","x":536.3,"y":300},{"s":"AR","x":537.0,"y":315},{"s":"AR","x":538.0,"y":300},{"s":"AR","x":539.1,"y":280},{"s":"AR","x":540.5,"y":290},{"s":"AR","x":541.6,"y":305},{"s":"AR","x":542.5,"y":310},{"s":"AR","x":543.7,"y":290},{"s":"AR","x":545.0,"y":265},{"s":"AR","x":546.0,"y":255},{"s":"AR","x":548,"y":257},{"s":"AR","x":551,"y":258},{"s":"AR","x":555,"y":255}
 ],
 "e3": [
  {"s":"RP","x":2140.02,"y":463},{"s":"RP","x":2142.38,"y":467},{"s":"RP","x":2143.68,"y":477},{"s":"RP","x":2144.32,"y":510},{"s":"RP","x":2144.81,"y":605},{"s":"RP","x":2145.29,"y":705},{"s":"RP","x":2145.78,"y":745},{"s":"RP","x":2146.27,"y":720},{"s":"RP","x":2146.91,"y":685},{"s":"RP","x":2148.21,"y":635},{"s":"RP","x":2149.5,"y":605},{"s":"RP","x":2150.63,"y":585},{"s":"RP","x":2151.44,"y":590},{"s":"RP","x":2152.74,"y":595},{"s":"RP","x":2154.03,"y":595},{"s":"RP","x":2155.33,"y":590},{"s":"RP","x":2156.94,"y":587},{"s":"RP","x":2160,"y":585},
  {"s":"BR","x":2140.02,"y":463},{"s":"BR","x":2142.38,"y":467},{"s":"BR","x":2143.68,"y":475},{"s":"BR","x":2144.49,"y":515},{"s":"BR","x":2144.97,"y":595},{"s":"BR","x":2145.46,"y":665},{"s":"BR","x":2145.78,"y":683},{"s":"BR","x":2146.27,"y":655},{"s":"BR","x":2146.91,"y":620},{"s":"BR","x":2147.88,"y":590},{"s":"BR","x":2148.85,"y":575},{"s":"BR","x":2150.15,"y":562},{"s":"BR","x":2151.12,"y":570},{"s":"BR","x":2152.09,"y":590},{"s":"BR","x":2153.39,"y":600},{"s":"BR","x":2154.19,"y":620},{"s":"BR","x":2155.0,"y":655},{"s":"BR","x":2155.65,"y":645},{"s":"BR","x":2156.3,"y":610},{"s":"BR","x":2157.27,"y":583},{"s":"BR","x":2158.56,"y":578},{"s":"BR","x":2160,"y":577},
  {"s":"AR","x":2140.02,"y":463},{"s":"AR","x":2142.38,"y":467},{"s":"AR","x":2143.68,"y":475},{"s":"AR","x":2144.32,"y":505},{"s":"AR","x":2144.81,"y":595},{"s":"AR","x":2145.29,"y":705},{"s":"AR","x":2145.78,"y":745},{"s":"AR","x":2146.27,"y":715},{"s":"AR","x":2146.91,"y":675},{"s":"AR","x":2147.88,"y":635},{"s":"AR","x":2148.85,"y":605},{"s":"AR","x":2150.15,"y":575},{"s":"AR","x":2151.12,"y":580},{"s":"AR","x":2152.09,"y":593},{"s":"AR","x":2153.39,"y":600},{"s":"AR","x":2154.52,"y":628},{"s":"AR","x":2155.33,"y":620},{"s":"AR","x":2156.3,"y":595},{"s":"AR","x":2157.59,"y":583},{"s":"AR","x":2160,"y":580}
 ]
},
"vconcat": [
 {
  "hconcat": [
   {
    "width": 347, "height": 346,
    "title": {"text": "a"},
    "layer": [
     {"data": {"values": [{"x":456.81,"x2":458.17,"y":160,"y2":925},{"x":458.77,"x2":460.6,"y":160,"y2":1023}]},
      "mark": {"type": "rect", "fill": null, "fillOpacity": 0, "stroke": "#ff3b3b", "strokeWidth": 1.6, "strokeDash": [2, 3]},
      "encoding": {
       "x": {"field": "x", "type": "quantitative", "scale": {"domain": [454, 461], "nice": false, "zero": false}, "axis": {"title": "Photon energy (eV)", "values": [454,454.5,455,455.5,456,456.5,457,457.5,458,458.5,459,459.5,460,460.5,461], "labelExpr": "datum.value % 1 === 0 ? datum.label : ''"}},
       "x2": {"field": "x2"},
       "y": {"field": "y", "type": "quantitative", "scale": {"domain": [0, 1040], "nice": false, "zero": false}, "axis": {"title": "Intensity (a.u.)"}},
       "y2": {"field": "y2"}}},
     {"data": {"name": "aCurve"}, "mark": {"type": "line", "strokeWidth": 1.8, "interpolate": "monotone"},
      "encoding": {"x": {"field": "x", "type": "quantitative"}, "y": {"field": "i", "type": "quantitative"}, "detail": {"field": "s", "type": "nominal"},
       "color": {"datum": "Illumination", "type": "nominal", "scale": {"domain": ["Dark", "Illumination"], "range": ["#6e4646", "#ff6a10"]}, "legend": {"title": null, "legendX": 17, "legendY": 54, "rowPadding": 0, "symbolType": "M-1.8,0H1.8", "labelOffset": 14}}}},
     {"data": {"name": "aCurve"}, "mark": {"type": "line", "strokeWidth": 1.6, "interpolate": "monotone"},
      "encoding": {"x": {"field": "x", "type": "quantitative"}, "y": {"field": "d", "type": "quantitative"}, "detail": {"field": "s", "type": "nominal"},
       "color": {"datum": "Dark", "type": "nominal"}}},
     {"data": {"values": [{"x":454.13,"y":990,"t":"Ti L-edge"},{"x":454.06,"y":580,"t":"TiO₂(B)/RP(40)"},{"x":454.2,"y":420,"t":"TiO₂(B)"},{"x":454.06,"y":230,"t":"TiO₂(A)/RP(30)"},{"x":454.2,"y":63,"t":"TiO₂(A)"}]},
      "mark": {"type": "text", "align": "left"},
      "encoding": {"x": {"field": "x", "type": "quantitative"}, "y": {"field": "y", "type": "quantitative"}, "text": {"field": "t"}}}
    ]
   },
   {
    "hconcat": [
     {
      "width": 347, "height": 346,
      "title": {"text": "b"},
      "layer": [
       {"data": {"values": [{"x":4968.1,"x2":4977.6,"y":25,"y2":390}]},
        "mark": {"type": "rect", "fill": null, "fillOpacity": 0, "stroke": "#ff3b3b", "strokeWidth": 1.6, "strokeDash": [2, 3]},
        "encoding": {
         "x": {"field": "x", "type": "quantitative", "scale": {"domain": [4960, 5020], "nice": false, "zero": false}, "axis": {"title": "Photon energy (eV)", "values": [4960,4965,4970,4975,4980,4985,4990,4995,5000,5005,5010,5015,5020], "labelExpr": "datum.value % 10 === 0 ? datum.label : ''"}},
         "x2": {"field": "x2"},
         "y": {"field": "y", "type": "quantitative", "scale": {"domain": [0, 1040], "nice": false, "zero": false}, "axis": {"title": "Intensity (a.u.)"}},
         "y2": {"field": "y2"}}},
       {"data": {"values": [{"x":4993.6,"y":840,"y2":975},{"x":4996.5,"y":675,"y2":775},{"x":5000.8,"y":717,"y2":817}]},
        "mark": {"type": "rule", "color": "#ff4020", "strokeWidth": 1.6, "strokeDash": [5, 3]},
        "encoding": {"x": {"field": "x", "type": "quantitative"}, "y": {"field": "y", "type": "quantitative"}, "y2": {"field": "y2"}}},
       {"data": {"name": "bA"}, "mark": {"type": "line", "strokeWidth": 1.6, "interpolate": "monotone"},
        "encoding": {"x": {"field": "x", "type": "quantitative"}, "y": {"field": "k", "type": "quantitative"},
         "color": {"datum": "A", "type": "nominal", "scale": {"domain": ["BR", "B", "AR", "A"], "range": ["#35a55a", "#1f6fde", "#ee2e2e", "#3c3c3c"]},
          "legend": {"title": null, "legendX": 167, "legendY": 200, "rowPadding": 6, "labelExpr": "datum.label == 'A' ? 'TiO₂(A)' : datum.label == 'AR' ? 'TiO₂(A)/RP(30)' : datum.label == 'B' ? 'TiO₂(B)' : 'TiO₂(B)/RP(40)'"}}}},
       {"data": {"name": "bA"}, "mark": {"type": "line", "strokeWidth": 1.6, "interpolate": "monotone"},
        "encoding": {"x": {"field": "x", "type": "quantitative"}, "y": {"field": "r", "type": "quantitative"}, "color": {"datum": "AR", "type": "nominal"}}},
       {"data": {"name": "bB"}, "mark": {"type": "line", "strokeWidth": 1.6, "interpolate": "monotone"},
        "encoding": {"x": {"field": "x", "type": "quantitative"}, "y": {"field": "u", "type": "quantitative"}, "color": {"datum": "B", "type": "nominal"}}},
       {"data": {"name": "bB"}, "mark": {"type": "line", "strokeWidth": 1.6, "interpolate": "monotone"},
        "encoding": {"x": {"field": "x", "type": "quantitative"}, "y": {"field": "g", "type": "quantitative"}, "color": {"datum": "BR", "type": "nominal"}}},
       {"data": {"values": [{"x":4961.8,"y":983,"t":"Ti K-edge"}]}, "mark": {"type": "text", "align": "left"},
        "encoding": {"x": {"field": "x", "type": "quantitative"}, "y": {"field": "y", "type": "quantitative"}, "text": {"field": "t"}}},
       {"data": {"values": [{"x":4972.7,"y":442,"t":"pre-peak"}]}, "mark": {"type": "text", "align": "center"},
        "encoding": {"x": {"field": "x", "type": "quantitative"}, "y": {"field": "y", "type": "quantitative"}, "text": {"field": "t"}}}
      ]
     },
     {
      "width": 347, "height": 346,
      "title": {"text": "c"},
      "layer": [
       {"data": {"name": "cComp"}, "mark": {"type": "area", "fillOpacity": 0.62, "interpolate": "monotone", "stroke": "#7d8fc8", "strokeWidth": 0.8},
        "encoding": {
         "x": {"field": "x", "type": "quantitative", "scale": {"domain": [4968, 4978], "nice": false, "zero": false}, "axis": {"title": "Photon energy (eV)", "values": [4968,4969,4970,4971,4972,4973,4974,4975,4976,4977,4978], "labelExpr": "datum.value % 2 === 0 ? datum.label : ''"}},
         "y": {"field": "y", "type": "quantitative", "stack": null, "scale": {"domain": [0, 1038], "nice": false, "zero": false}, "axis": {"title": "Intensity (a.u.)"}},
         "y2": {"field": "b"},
         "detail": {"field": "s", "type": "nominal"},
         "color": {"field": "c", "type": "nominal", "scale": {"domain": ["A1", "A2", "A3", "A4"], "range": ["#f09a98", "#9bb2ee", "#bfe0a2", "#f0a0e8"]}, "legend": null}}},
       {"data": {"name": "cEnv"}, "mark": {"type": "line", "strokeWidth": 3.2, "color": "#e0703a", "interpolate": "monotone"},
        "encoding": {"x": {"field": "x", "type": "quantitative"}, "y": {"field": "y", "type": "quantitative"}, "detail": {"field": "s", "type": "nominal"}}},
       {"data": {"name": "cEnv"}, "mark": {"type": "line", "strokeWidth": 1.9, "color": "#7e1a1a", "interpolate": "monotone"},
        "encoding": {"x": {"field": "x", "type": "quantitative"}, "y": {"field": "y", "type": "quantitative"}, "detail": {"field": "s", "type": "nominal"}}},
       {"data": {"values": [{"x":4968.3,"y":986,"t":"Ti K-edge"}]}, "mark": {"type": "text", "align": "left"},
        "encoding": {"x": {"field": "x", "type": "quantitative"}, "y": {"field": "y", "type": "quantitative"}, "text": {"field": "t"}}},
       {"data": {"values": [{"x":4977.6,"y":986,"t":"pre-peak"},{"x":4977.6,"y":641,"t":"TiO₂(B)/RP(40)"},{"x":4976.9,"y":423,"t":"TiO₂(B)"},{"x":4977.6,"y":198,"t":"TiO₂(A)/RP(30)"},{"x":4976.9,"y":48,"t":"TiO₂(A)"}]}, "mark": {"type": "text", "align": "right"},
        "encoding": {"x": {"field": "x", "type": "quantitative"}, "y": {"field": "y", "type": "quantitative"}, "text": {"field": "t"}}},
       {"data": {"values": [{"x":4970.0,"y":788,"t":"A₁"},{"x":4971.7,"y":978,"t":"A₂"},{"x":4973.3,"y":841,"t":"A₃"},{"x":4975.1,"y":816,"t":"A₄"}]}, "mark": {"type": "text", "align": "center"},
        "encoding": {"x": {"field": "x", "type": "quantitative"}, "y": {"field": "y", "type": "quantitative"}, "text": {"field": "t"}}}
      ]
     }
    ],
    "spacing": 45, "bounds": "flush",
    "resolve": {"scale": {"color": "independent"}, "legend": {"color": "independent"}}
   }
  ],
  "spacing": 53, "bounds": "flush",
  "resolve": {"scale": {"color": "independent"}, "legend": {"color": "independent"}}
 },
 {
  "hconcat": [
   {
    "width": 347, "height": 347,
    "title": {"text": "d"},
    "layer": [
     {"data": {"name": "dCurve"}, "mark": {"type": "line", "strokeWidth": 1.6, "interpolate": "monotone"},
      "encoding": {
       "x": {"field": "x", "type": "quantitative", "scale": {"domain": [0, 5], "nice": false, "zero": false}, "axis": {"title": "R (Å)", "titlePadding": 2, "values": [0,0.5,1,1.5,2,2.5,3,3.5,4,4.5,5], "labelExpr": "datum.value % 1 === 0 ? datum.label : ''"}},
       "y": {"field": "y", "type": "quantitative", "scale": {"domain": [0, 1040], "nice": false, "zero": false}, "axis": {"title": "Magnitude of FT (a.u.)"}},
       "color": {"field": "s", "type": "nominal", "scale": {"domain": ["A", "AR", "B", "BR"], "range": ["#3c3c3c", "#ee2e2e", "#1f6fde", "#35a55a"]},
        "legend": {"title": null, "legendX": 189, "legendY": 34, "rowPadding": 4, "labelExpr": "datum.label == 'A' ? 'TiO₂(A)' : datum.label == 'AR' ? 'TiO₂(A)/RP(30)' : datum.label == 'B' ? 'TiO₂(B)' : 'TiO₂(B)/RP(40)'"}}}},
     {"data": {"values": [{"x":0.12,"y":987,"t":"Ti R-space"}]}, "mark": {"type": "text", "align": "left"},
      "encoding": {"x": {"field": "x", "type": "quantitative"}, "y": {"field": "y", "type": "quantitative"}, "text": {"field": "t"}}},
     {"data": {"values": [{"x":1.51,"y":935,"t":"Ti-O"},{"x":2.66,"y":567,"t":"Ti-Ti"}]}, "mark": {"type": "text", "align": "center"},
      "encoding": {"x": {"field": "x", "type": "quantitative"}, "y": {"field": "y", "type": "quantitative"}, "text": {"field": "t"}}}
    ]
   },
   {
    "hconcat": [
     {
      "width": 267, "height": 347, "view": {"stroke": null},
      "title": {"text": "e"},
      "layer": [
       {"data": {"name": "e1B"}, "mark": {"type": "line", "strokeWidth": 1.6, "interpolate": "monotone"},
        "encoding": {
         "x": {"field": "x", "type": "quantitative", "scale": {"domain": [454, 470.4], "nice": false, "zero": false}, "axis": {"title": null, "domain": true, "values": [455,457.5,460,462.5,465,467.5], "labelExpr": "datum.value % 5 === 0 ? datum.label : ''"}},
         "y": {"field": "y", "type": "quantitative", "scale": {"domain": [0, 1040], "nice": false, "zero": false}, "axis": {"title": "Intensity (a.u.)", "domain": true}},
         "color": {"field": "s", "type": "nominal", "scale": {"domain": ["BR", "B"], "range": ["#35a55a", "#1f6fde"]},
          "legend": {"title": null, "legendX": 194, "legendY": 34, "rowPadding": 7, "labelExpr": "datum.label == 'B' ? 'TiO₂(B)' : 'TiO₂(B)/RP(40)'"}}}},
       {"data": {"name": "e1A"}, "mark": {"type": "line", "strokeWidth": 1.6, "interpolate": "monotone"},
        "encoding": {"x": {"field": "x", "type": "quantitative"}, "y": {"field": "y", "type": "quantitative"},
         "stroke": {"field": "s", "type": "nominal", "scale": {"domain": ["AR", "A"], "range": ["#ee2e2e", "#3c3c3c"]},
          "legend": {"title": null, "legendX": 197, "legendY": 184, "rowPadding": 7, "labelExpr": "datum.label == 'A' ? 'TiO₂(A)' : 'TiO₂(A)/RP(30)'"}}}},
       {"data": {"values": [{}]}, "mark": {"type": "rule", "color": "#000", "strokeWidth": 1.5}, "encoding": {"y": {"datum": 1040}}},
       {"data": {"values": [{"x":469.61,"x2":470.16,"y":-12,"y2":3},{"x":469.61,"x2":470.16,"y":1028,"y2":1043}]}, "mark": {"type": "rule", "color": "#000", "strokeWidth": 1.3},
        "encoding": {"x": {"field": "x", "type": "quantitative"}, "x2": {"field": "x2"}, "y": {"field": "y", "type": "quantitative"}, "y2": {"field": "y2"}}},
       {"data": {"values": [{"x":460.16,"y":985,"t":"Ti L-edge"}]}, "mark": {"type": "text", "align": "center"},
        "encoding": {"x": {"field": "x", "type": "quantitative"}, "y": {"field": "y", "type": "quantitative"}, "text": {"field": "t"}}}
      ]
     },
     {
      "width": 260, "height": 347, "view": {"stroke": null},
      "layer": [
       {"data": {"name": "e2"}, "mark": {"type": "line", "strokeWidth": 1.6, "interpolate": "monotone"},
        "encoding": {
         "x": {"field": "x", "type": "quantitative", "scale": {"domain": [520.2, 556], "nice": false, "zero": false}, "axis": {"title": "Photon energy (eV)", "titleX": 108, "titlePadding": 2, "domain": true, "values": [525,530,535,540,545,550,555], "labelExpr": "datum.value % 10 === 0 ? datum.label : ''"}},
         "y": {"field": "y", "type": "quantitative", "scale": {"domain": [0, 1040], "nice": false, "zero": false}, "axis": null},
         "color": {"field": "s", "type": "nominal", "scale": {"domain": ["BR", "B", "AR", "A"], "range": ["#35a55a", "#1f6fde", "#ee2e2e", "#3c3c3c"]}, "legend": null}}},
       {"data": {"values": [{}]}, "mark": {"type": "rule", "color": "#000", "strokeWidth": 1.5}, "encoding": {"y": {"datum": 1040}}},
       {"data": {"values": [{"x":520.34,"x2":521.85,"y":3,"y2":18},{"x":520.34,"x2":521.85,"y":1043,"y2":1058},{"x":554.18,"x2":555.4,"y":-12,"y2":3},{"x":554.18,"x2":555.4,"y":1028,"y2":1043}]}, "mark": {"type": "rule", "color": "#000", "strokeWidth": 1.3},
        "encoding": {"x": {"field": "x", "type": "quantitative"}, "x2": {"field": "x2"}, "y": {"field": "y", "type": "quantitative"}, "y2": {"field": "y2"}}},
       {"data": {"values": [{"x":535.5,"y":985,"t":"O K-edge"}]}, "mark": {"type": "text", "align": "center"},
        "encoding": {"x": {"field": "x", "type": "quantitative"}, "y": {"field": "y", "type": "quantitative"}, "text": {"field": "t"}}}
      ]
     },
     {
      "width": 212, "height": 347, "view": {"stroke": null},
      "layer": [
       {"data": {"name": "e3"}, "mark": {"type": "line", "strokeWidth": 1.6, "interpolate": "monotone"},
        "encoding": {
         "x": {"field": "x", "type": "quantitative", "scale": {"domain": [2139.44, 2160], "nice": false, "zero": false}, "axis": {"title": null, "domain": true, "values": [2140,2144,2148,2152,2156,2160], "labelExpr": "(datum.value - 2144) % 8 === 0 ? datum.label : ''"}},
         "y": {"field": "y", "type": "quantitative", "scale": {"domain": [0, 1040], "nice": false, "zero": false}, "axis": null},
         "color": {"field": "s", "type": "nominal", "scale": {"domain": ["BR", "AR", "RP"], "range": ["#35a55a", "#ee2e2e", "#ff9a1f"]},
          "legend": {"title": null, "legendX": 53, "legendY": 213, "rowPadding": 6, "labelExpr": "datum.label == 'RP' ? 'RP' : datum.label == 'AR' ? 'TiO₂(A)/RP(30)' : 'TiO₂(B)/RP(40)'"}}}},
       {"data": {"values": [{}]}, "mark": {"type": "rule", "color": "#000", "strokeWidth": 1.5}, "encoding": {"y": {"datum": 1040}}},
       {"data": {"values": [{}]}, "mark": {"type": "rule", "color": "#000", "strokeWidth": 1.5}, "encoding": {"x": {"datum": 2160}}},
       {"data": {"values": [{"x":2139.44,"x2":2140.6,"y":3,"y2":18},{"x":2139.44,"x2":2140.6,"y":1043,"y2":1058}]}, "mark": {"type": "rule", "color": "#000", "strokeWidth": 1.3},
        "encoding": {"x": {"field": "x", "type": "quantitative"}, "x2": {"field": "x2"}, "y": {"field": "y", "type": "quantitative"}, "y2": {"field": "y2"}}},
       {"data": {"values": [{"x":2149.3,"y":985,"t":"P K-edge"},{"x":2145.9,"y":765,"t":"P⁰"},{"x":2155.2,"y":672,"t":"P⁵⁺"}]}, "mark": {"type": "text", "align": "center"},
        "encoding": {"x": {"field": "x", "type": "quantitative"}, "y": {"field": "y", "type": "quantitative"}, "text": {"field": "t"}}}
      ]
     }
    ],
    "spacing": 0, "bounds": "flush",
    "resolve": {"scale": {"color": "independent", "stroke": "independent"}, "legend": {"color": "independent", "stroke": "independent"}}
   }
  ],
  "spacing": 53, "bounds": "flush",
  "resolve": {"scale": {"color": "independent", "stroke": "independent"}, "legend": {"color": "independent", "stroke": "independent"}}
 }
],
"spacing": -1,
"resolve": {"scale": {"color": "independent", "stroke": "independent"}, "legend": {"color": "independent", "stroke": "independent"}}
}
